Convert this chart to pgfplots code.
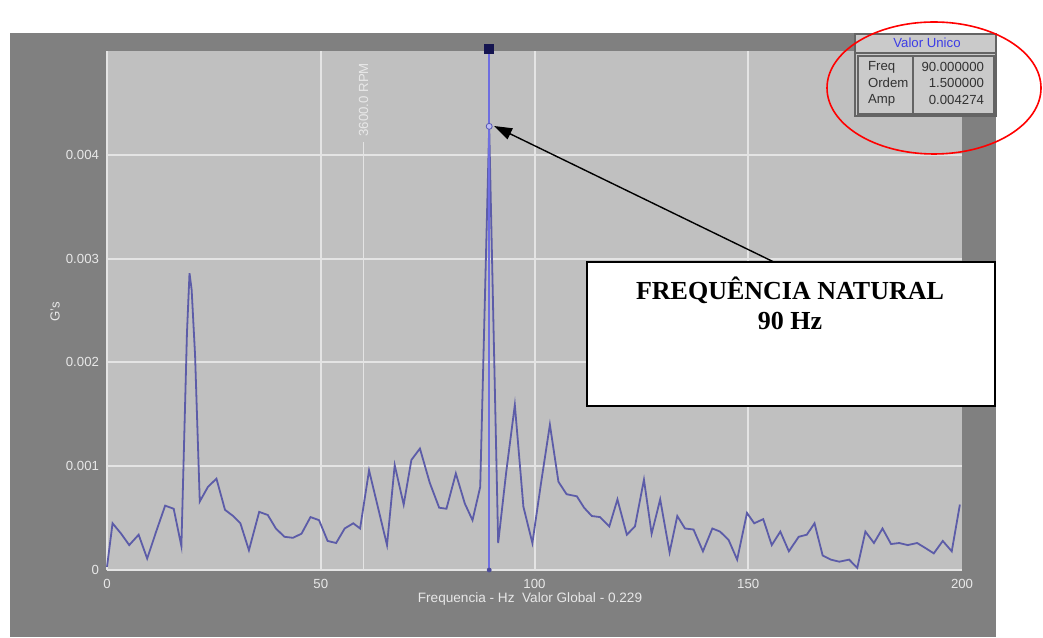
\documentclass[border=0pt]{standalone}
\usepackage{pgfplots}
\pgfplotsset{compat=1.18}
\usetikzlibrary{arrows.meta}
\usepackage{fontspec}
\setmainfont{Liberation Sans}
\newfontfamily\timesfont{Liberation Serif}
\definecolor{panel}{RGB}{128,128,128}
\definecolor{plotbg}{RGB}{192,192,192}
\definecolor{gridc}{RGB}{228,228,228}
\definecolor{trace}{RGB}{92,92,168}
\definecolor{cursor}{RGB}{110,110,225}
\definecolor{navy}{RGB}{20,20,80}
\definecolor{labc}{RGB}{232,232,232}
\definecolor{infobg}{RGB}{202,202,202}
\definecolor{boxd}{RGB}{100,100,100}
\definecolor{infotxt}{RGB}{50,50,50}
\definecolor{infoblue}{RGB}{60,60,230}
\begin{document}
\begin{tikzpicture}[x=0.5pt,y=0.5pt]
\path[use as bounding box] (0,0) rectangle (1043,637);
\fill[panel] (10,0) rectangle (996,604);
\begin{axis}[
  at={(53.5pt,33.5pt)}, anchor=south west, scale only axis,
  width=427.5pt, height=259.5pt,
  xmin=0, xmax=200, ymin=0, ymax=0.005,
  scaled y ticks=false, scaled x ticks=false,
  axis background/.style={fill=plotbg},
  axis x line*=bottom, axis y line*=left,
  axis line style={draw=gridc, line width=0.8pt, -},
  xtick={0,50,100,150,200}, xticklabels={0,50,100,150,200},
  ytick={0,0.001,0.002,0.003,0.004}, yticklabels={0,0.001,0.002,0.003,0.004},
  ymajorgrids=true,
  extra x ticks={50,100,150}, extra x tick labels={},
  extra x tick style={grid=major},
  major grid style={draw=gridc, line width=1pt},
  major tick length=0pt,
  tick label style={font=\fontsize{6.6}{7}\selectfont, text=labc},
  xticklabel style={yshift=-1pt},
  yticklabel style={xshift=-0.5pt},
  clip=false,
]
% RPM marker
\addplot[draw=gridc, line width=0.8pt] coordinates {(60,0) (60,0.004125)};
\node[rotate=90, text=labc, font=\fontsize{6.6}{7}\selectfont] at (axis cs:60,0.00453) {3600.0 RPM};
% spectrum
\addplot[draw=trace, line width=0.9pt] coordinates {
(0,0.00003) (1.3,0.00045) (3.3,0.00035) (5.2,0.00024) (7.4,0.00034) (9.4,0.00011)
(11.5,0.00037) (13.6,0.00062) (15.6,0.00059) (17.4,0.00023) (18.7,0.00228) (19.3,0.00286)
(19.8,0.00270) (20.6,0.00207) (21.7,0.00066) (23.6,0.00080) (25.6,0.00088) (27.6,0.00058)
(29.5,0.00052) (31.2,0.00045) (33.2,0.00019) (35.6,0.00056) (37.6,0.00053) (39.5,0.00040)
(41.5,0.00032) (43.5,0.00031) (45.5,0.00035) (47.6,0.00051) (49.6,0.00048) (51.6,0.00028)
(53.6,0.00026) (55.6,0.00040) (57.6,0.00045) (59.2,0.00040) (61.3,0.00096) (63.4,0.00060)
(65.5,0.00024) (67.3,0.00101) (69.4,0.00063) (71.2,0.00106) (73.2,0.00117) (75.5,0.00084)
(77.7,0.00060) (79.4,0.00059) (81.6,0.00093) (83.7,0.00064) (85.5,0.00048) (87.3,0.00080)
(89.4,0.004274) (91.5,0.00026) (93.4,0.00095) (95.4,0.00159) (97.4,0.00061) (99.5,0.00026)
(101.5,0.00083) (103.6,0.00140) (105.6,0.00085) (107.5,0.00073) (109.9,0.00071) (111.6,0.00060)
(113.4,0.00052) (115.3,0.00051) (117.5,0.00042) (119.4,0.00068) (121.6,0.00034) (123.5,0.00042)
(125.6,0.00087) (127.4,0.00035) (129.4,0.00068) (131.6,0.00017) (133.4,0.00052) (135.2,0.00040)
(137.2,0.00039) (139.4,0.00018) (141.6,0.00040) (143.4,0.00037) (145.4,0.00029) (147.4,0.00010)
(149.7,0.00055) (151.4,0.00045) (153.5,0.00049) (155.5,0.00024) (157.5,0.00037) (159.5,0.00018)
(161.8,0.00032) (163.7,0.00034) (165.5,0.00045) (167.4,0.00014) (169.3,0.00010) (171.3,0.00008)
(173.6,0.00010) (175.5,0.00002) (177.4,0.00037) (179.4,0.00026) (181.4,0.00040) (183.4,0.00025)
(185.3,0.00026) (187.3,0.00024) (189.5,0.00026) (191.5,0.00021) (193.4,0.00016) (195.5,0.00028)
(197.6,0.00018) (199.5,0.00063)
};
% cursor
\addplot[draw=cursor, line width=0.9pt] coordinates {(89.4,0) (89.4,0.00502)};
\addplot[only marks, mark=square*, mark size=2.2pt, color=navy] coordinates {(89.4,0.00502)};
\addplot[only marks, mark=*, mark size=1.5pt, draw=cursor!80!black, fill=cursor!45!white] coordinates {(89.4,0.004274)};
\addplot[only marks, mark=*, mark size=1pt, color=cursor!70!black] coordinates {(89.4,0)};
\end{axis}
% axis titles
\node[rotate=90, text=labc, font=\fontsize{6.6}{7}\selectfont] at (55,325) {G's};
\node[text=labc, font=\fontsize{6.8}{8}\selectfont] at (530,38) {Frequencia - Hz\ \ Valor Global - 0.229};
% annotation
\draw[-{Triangle[length=9pt,width=6pt]}, line width=0.7pt] (780,372) -- (494,511);
\draw[line width=1pt, fill=white] (587,231) rectangle (995,375);
\node[font=\timesfont\bfseries\fontsize{13}{15}\selectfont] at (790,347) {FREQUÊNCIA NATURAL};
\node[font=\timesfont\bfseries\fontsize{13}{15}\selectfont] at (790,316) {90 Hz};
% info box
\fill[infobg] (855,521) rectangle (996,603);
\draw[boxd, line width=0.6pt] (855,521) rectangle (996,603);
\draw[boxd, line width=0.6pt] (855,584) -- (996,584);
\draw[boxd, line width=0.6pt] (858,523) rectangle (994,581);
\draw[boxd, line width=0.6pt] (913,523) -- (913,581);
\node[text=infoblue, font=\fontsize{6.6}{7}\selectfont] at (927,594) {Valor Unico};
\node[anchor=west, text=infotxt, font=\fontsize{6.6}{7}\selectfont] at (861,570) {Freq};
\node[anchor=west, text=infotxt, font=\fontsize{6.6}{7}\selectfont] at (861,554) {Ordem};
\node[anchor=west, text=infotxt, font=\fontsize{6.6}{7}\selectfont] at (861,537) {Amp};
\node[anchor=east, text=infotxt, font=\fontsize{6.6}{7}\selectfont] at (991,570) {90.000000};
\node[anchor=east, text=infotxt, font=\fontsize{6.6}{7}\selectfont] at (991,554) {1.500000};
\node[anchor=east, text=infotxt, font=\fontsize{6.6}{7}\selectfont] at (991,537) {0.004274};
% red ellipse
\draw[red, line width=0.8pt] (934,549) ellipse [x radius=53.5pt, y radius=33pt];
\end{tikzpicture}
\end{document}
